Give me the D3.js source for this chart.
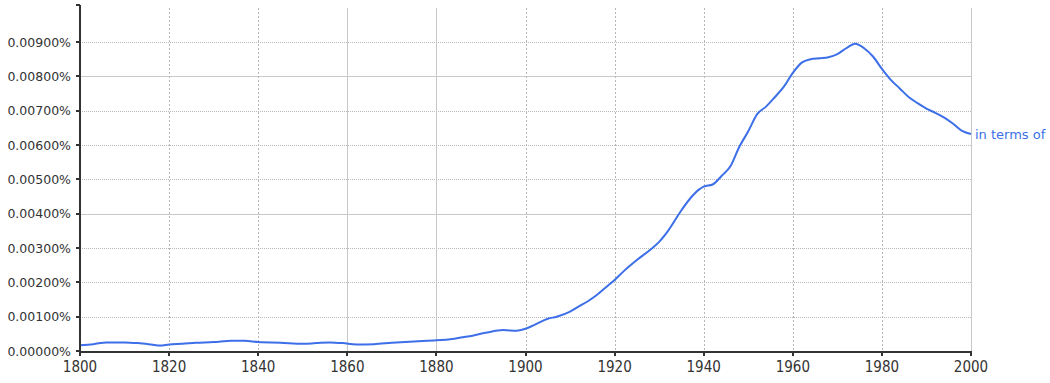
<!DOCTYPE html>
<html>
<head>
<meta charset="utf-8">
<script src="https://cdn.jsdelivr.net/npm/d3@7"></script>
<style>
  body { margin: 0; background: #fff; }
  svg { display: block; }
  .ylab { font-family: "DejaVu Sans", sans-serif; font-size: 12.5px; fill: #333; }
  .xlab { font-family: "Liberation Sans Narrow", "DejaVu Sans Condensed", sans-serif; font-size: 15px; fill: #333; }
  .series-label { font-family: "DejaVu Sans", sans-serif; font-size: 13px; fill: #3d6fe8; }
</style>
</head>
<body>
<svg id="chart" width="1050" height="383"></svg>
<script>
/* DATA */
const seriesName = "in terms of";

const years = [
  1800, 1803, 1806, 1810, 1813, 1816, 1818, 1820, 1823, 1826, 1830, 1834, 1837,
  1840, 1845, 1850, 1853, 1856, 1859, 1862, 1866, 1870, 1875, 1880, 1884, 1887,
  1891, 1895, 1898, 1900, 1902, 1905, 1907, 1910, 1912, 1914, 1916, 1918, 1920,
  1922, 1925, 1928, 1930, 1932, 1935, 1937, 1939, 1940, 1942, 1944, 1946, 1948,
  1950, 1952, 1954, 1956, 1958, 1960, 1962, 1964, 1966, 1968, 1970, 1972, 1974,
  1976, 1978, 1980, 1982, 1984, 1986, 1988, 1990, 1992, 1994, 1996, 1998, 2000
];

// percent values
const values = [
  0.00017, 0.00020, 0.00025, 0.00025, 0.00023, 0.00019, 0.00016, 0.00019, 0.00021, 0.00024, 0.00026, 0.00030, 0.00030,
  0.00026, 0.00024, 0.00021, 0.00023, 0.00025, 0.00023, 0.00019, 0.00020, 0.00024, 0.00028, 0.00031, 0.00036, 0.00042,
  0.00053, 0.00061, 0.00059, 0.00065, 0.00076, 0.00094, 0.00100, 0.00115, 0.00130, 0.00145, 0.00163, 0.00185, 0.00207,
  0.00232, 0.00265, 0.00295, 0.00318, 0.00350, 0.00410, 0.00445, 0.00471, 0.00479, 0.00485, 0.00510, 0.00538, 0.00595,
  0.00640, 0.00690, 0.00712, 0.00740, 0.00770, 0.00810, 0.00840, 0.00850, 0.00853, 0.00856, 0.00865, 0.00882, 0.00895,
  0.00882, 0.00858, 0.00822, 0.00790, 0.00765, 0.00740, 0.00722, 0.00706, 0.00694, 0.00680, 0.00662, 0.00641, 0.00632
];

const xTicks = [1800, 1820, 1840, 1860, 1880, 1900, 1920, 1940, 1960, 1980, 2000];
const yTicks = [0, 0.001, 0.002, 0.003, 0.004, 0.005, 0.006, 0.007, 0.008, 0.009];
const xSolid = [1860, 1880, 2000];
const ySolid = [0.004, 0.008];

/* SETUP */
const svg = d3.select("#chart");
const plotLeft = 80, plotRight = 971, plotTop = 5, plotBottom = 351;

const x = d3.scaleLinear().domain([1800, 2000]).range([plotLeft, plotRight]);
const y = d3.scaleLinear().domain([0, 0.01008]).range([plotBottom, plotTop]);

const data = years.map((yr, i) => ({ year: yr, value: values[i] }));

// gridlines
const grid = svg.append("g").attr("shape-rendering", "crispEdges");

grid.selectAll("line.hg")
  .data(yTicks.filter(d => d > 0))
  .join("line")
  .attr("class", "hg")
  .attr("x1", plotLeft).attr("x2", plotRight)
  .attr("y1", d => Math.round(y(d)) + 0.5).attr("y2", d => Math.round(y(d)) + 0.5)
  .attr("stroke", d => ySolid.includes(d) ? "#c8c8c8" : "#b8b8b8")
  .attr("stroke-dasharray", d => ySolid.includes(d) ? null : "1,1");

grid.selectAll("line.vg")
  .data(xTicks.filter(d => d > 1800))
  .join("line")
  .attr("class", "vg")
  .attr("x1", d => Math.round(x(d)) + 0.5).attr("x2", d => Math.round(x(d)) + 0.5)
  .attr("y1", plotTop + 3).attr("y2", plotBottom)
  .attr("stroke", d => xSolid.includes(d) ? "#c8c8c8" : "#b8b8b8")
  .attr("stroke-dasharray", d => xSolid.includes(d) ? null : "2,2");

// line
const line = d3.line()
  .x(d => x(d.year))
  .y(d => y(d.value))
  .curve(d3.curveMonotoneX);

svg.append("path")
  .datum(data)
  .attr("d", line)
  .attr("fill", "none")
  .attr("stroke", "#3d6fe8")
  .attr("stroke-width", 2)
  .attr("stroke-linejoin", "round");

// axes
const axes = svg.append("g").attr("shape-rendering", "crispEdges");

// y axis line + ticks
axes.append("line")
  .attr("x1", plotLeft).attr("x2", plotLeft)
  .attr("y1", plotTop).attr("y2", plotBottom + 2)
  .attr("stroke", "#333").attr("stroke-width", 2);
axes.append("line")
  .attr("x1", plotLeft - 4).attr("x2", plotLeft)
  .attr("y1", plotTop).attr("y2", plotTop)
  .attr("stroke", "#333").attr("stroke-width", 2);
axes.selectAll("line.yt")
  .data(yTicks)
  .join("line")
  .attr("class", "yt")
  .attr("x1", plotLeft - 4).attr("x2", plotLeft)
  .attr("y1", d => Math.round(y(d))).attr("y2", d => Math.round(y(d)))
  .attr("stroke", "#333").attr("stroke-width", 2);

axes.selectAll("text.ylab")
  .data(yTicks)
  .join("text")
  .attr("class", "ylab")
  .attr("x", plotLeft - 9)
  .attr("y", d => y(d) + 4.5)
  .attr("text-anchor", "end")
  .text(d => d3.format(".5f")(d) + "%");

// x axis line + ticks
axes.append("line")
  .attr("x1", plotLeft - 1).attr("x2", plotRight + 1)
  .attr("y1", plotBottom + 1).attr("y2", plotBottom + 1)
  .attr("stroke", "#333").attr("stroke-width", 2);
axes.selectAll("line.xt")
  .data(xTicks)
  .join("line")
  .attr("class", "xt")
  .attr("x1", d => Math.round(x(d))).attr("x2", d => Math.round(x(d)))
  .attr("y1", plotBottom + 1).attr("y2", plotBottom + 5)
  .attr("stroke", "#333").attr("stroke-width", 2);

axes.selectAll("text.xlab")
  .data(xTicks)
  .join("text")
  .attr("class", "xlab")
  .attr("x", d => x(d))
  .attr("y", 372)
  .attr("text-anchor", "middle")
  .text(d => d);

// series label at end of line
const last = data[data.length - 1];
svg.append("text")
  .attr("class", "series-label")
  .attr("x", x(last.year) + 4)
  .attr("y", y(last.value) + 5)
  .text(seriesName);
</script>
</body>
</html>
